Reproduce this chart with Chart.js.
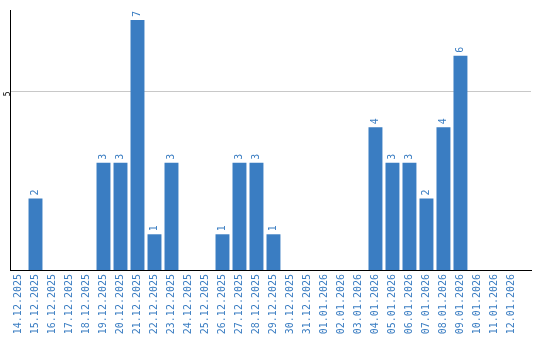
<!DOCTYPE html>
<html>
<head>
<meta charset="utf-8">
<script src="https://cdn.jsdelivr.net/npm/chart.js@4"></script>
<style>
  html, body { margin: 0; padding: 0; background: #fff; }
  #wrap { width: 540px; height: 340px; }
</style>
</head>
<body>
<div id="wrap"><canvas id="myChart" width="540" height="340"></canvas></div>
<script>
const days = [
  "14.12.2025", "15.12.2025", "16.12.2025", "17.12.2025", "18.12.2025",
  "19.12.2025", "20.12.2025", "21.12.2025", "22.12.2025", "23.12.2025",
  "24.12.2025", "25.12.2025", "26.12.2025", "27.12.2025", "28.12.2025",
  "29.12.2025", "30.12.2025", "31.12.2025", "01.01.2026", "02.01.2026",
  "03.01.2026", "04.01.2026", "05.01.2026", "06.01.2026", "07.01.2026",
  "08.01.2026", "09.01.2026", "10.01.2026", "11.01.2026", "12.01.2026"
];
const counts = [0, 2, 0, 0, 0, 3, 3, 7, 1, 3, 0, 0, 1, 3, 3, 1, 0, 0, 0, 0, 0, 4, 3, 3, 2, 4, 6, 0, 0, 0];
const yTicks = [5];

const blue = "#3a7dc2";
const mono = "'DejaVu Sans Mono', monospace";

// value labels above bars, rotated
const barLabels = {
  id: "barLabels",
  afterDatasetsDraw(chart) {
    const ctx = chart.ctx;
    const meta = chart.getDatasetMeta(0);
    ctx.save();
    ctx.fillStyle = blue;
    ctx.font = "10px " + mono;
    ctx.textAlign = "left";
    ctx.textBaseline = "middle";
    meta.data.forEach((bar, i) => {
      const v = counts[i];
      if (!v) return;
      ctx.save();
      ctx.translate(bar.x, bar.y - 3);
      ctx.rotate(-Math.PI / 2);
      ctx.fillText(String(v), 0, 0);
      ctx.restore();
    });
    ctx.restore();
  }
};

new Chart(document.getElementById("myChart"), {
  type: "bar",
  data: {
    labels: days,
    datasets: [{
      data: counts,
      backgroundColor: blue,
      barPercentage: 0.82,
      categoryPercentage: 1
    }]
  },
  options: {
    responsive: false,
    animation: false,
    layout: { padding: { top: 10, right: 9, left: 0, bottom: 0 } },
    plugins: { legend: { display: false }, tooltip: { enabled: false } },
    scales: {
      x: {
        grid: { display: false, drawTicks: false },
        border: { color: "#000", width: 1 },
        ticks: {
          color: blue,
          font: { family: mono, size: 10 },
          minRotation: 90,
          maxRotation: 90,
          autoSkip: false,
          padding: 4
        },
        afterFit(s) { s.height = 70; },
        // leave a bit of empty room after the last day
        afterUpdate(s) { s._valueRange = days.length + 0.65; }
      },
      y: {
        min: 0,
        max: 7.28,
        grid: { color: "#c8c8c8", drawTicks: false },
        border: { color: "#000", width: 1 },
        afterBuildTicks(s) { s.ticks = yTicks.map(v => ({ value: v })); },
        ticks: {
          color: "#000",
          font: { family: mono, size: 8 },
          minRotation: 90,
          maxRotation: 90,
          padding: 2
        },
        afterFit(s) { s.width = 10; }
      }
    }
  },
  plugins: [barLabels]
});
</script>
</body>
</html>
